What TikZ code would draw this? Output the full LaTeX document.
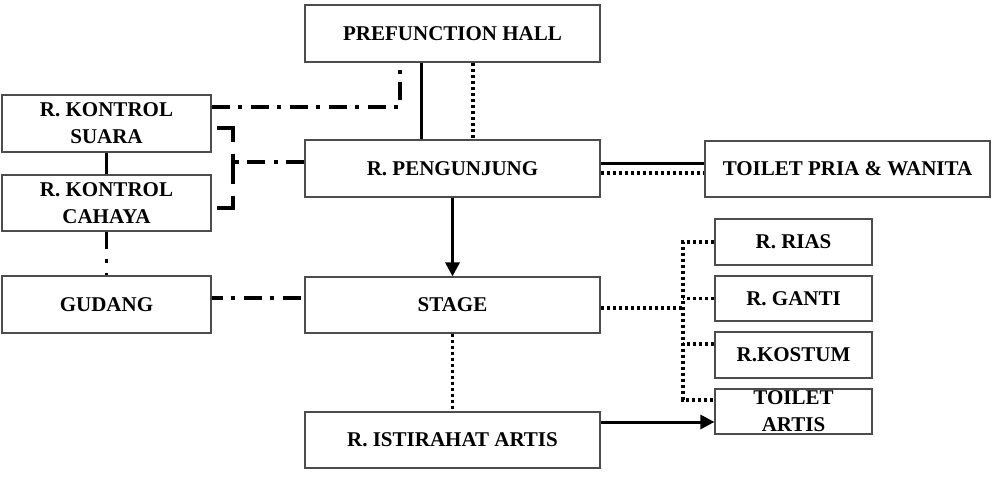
\documentclass[tikz,border=0pt]{standalone}
\usepackage{fontspec}
\setmainfont{Liberation Serif}
\usetikzlibrary{arrows.meta,calc}
\begin{document}
\begin{tikzpicture}[x=1pt,y=-1pt,
 box/.style={draw=black!70,line width=1.2pt,fill=white,inner sep=0pt,align=center,
   font=\bfseries\fontsize{21}{27}\selectfont},
 bigbox/.style={box,minimum width=295pt,minimum height=57pt},
 leftbox/.style={box,minimum width=209pt,minimum height=57pt},
 smallbox/.style={box,minimum width=157pt,minimum height=46pt},
 dashdot/.style={line width=3.8pt,dash pattern=on 18pt off 8pt on 4pt off 9pt},
 dotline/.style={line width=3.5pt,dash pattern=on 3.5pt off 2.5pt},
 dashline/.style={line width=3.8pt,dash pattern=on 30pt off 12pt},
 solidline/.style={line width=3pt},
 arr/.style={line width=3pt,-{Triangle[length=14pt,width=14pt]}}
]
\useasboundingbox (0,0) rectangle (992,477);
% nodes
\node[bigbox] (pref) at (452.5,33.5) {PREFUNCTION HALL};
\node[bigbox] (peng) at (452.5,168.5) {R. PENGUNJUNG};
\node[bigbox,minimum height=56pt] (stage) at (452.5,305) {STAGE};
\node[bigbox,minimum height=56pt] (ist) at (452.5,440) {R. ISTIRAHAT ARTIS};
\node[leftbox] (suara) at (106.5,123.5) {R. KONTROL\\SUARA};
\node[leftbox,minimum height=56pt] (cahaya) at (106.5,203) {R. KONTROL\\CAHAYA};
\node[leftbox] (gudang) at (106.5,304.5) {GUDANG};
\node[box,minimum width=285pt,minimum height=56pt] (tpw) at (847.5,169) {TOILET PRIA \& WANITA};
\node[smallbox] (rias) at (793.5,242) {R. RIAS};
\node[smallbox,minimum height=45pt] (ganti) at (793.5,298.5) {R. GANTI};
\node[smallbox] (kostum) at (793.5,355) {R.KOSTUM};
\node[smallbox,minimum height=45pt] (tartis) at (793.5,411.5) {TOILET\\ARTIS};
% coordinates
\coordinate (br) at (233,162);
\coordinate (bt) at (683,242);
\coordinate (bb) at (683,400);
% connectors
\draw[solidline] (pref.south -| 421,0) -- (peng.north -| 421,0);
\draw[dotline] (pref.south -| 473,0) -- (peng.north -| 473,0);
\draw[dashdot] (suara.east |- 0,107) -| (pref.south -| 400,0);
\draw[dashline] ($(suara.east)+(5,4.5)$) -- (233,128) -- (233,208) -- ($(cahaya.east)+(5,5)$);
\draw[dashdot] (peng.west |- br) -- (br);
\draw[solidline] (suara.south) -- (cahaya.north);
\draw[dashdot,dash pattern=on 17pt off 10pt on 4pt off 10pt] (cahaya.south) -- (gudang.north);
\draw[dashdot,dash phase=7pt] (gudang.east |- 0,298) -- (stage.west |- 0,298);
\draw[arr] (peng.south) -- (stage.north);
\draw[dotline] (stage.south) -- (ist.north);
\draw[solidline] (peng.east |- 0,163) -- (tpw.west |- 0,163);
\draw[dotline] (peng.east |- 0,173) -- (tpw.west |- 0,173);
\draw[dotline] (stage.east |- 0,308) -- (bt |- 0,308);
\draw[dotline] (rias.west) -- (bt) -- (bb) -- (tartis.west |- bb);
\draw[dotline] (ganti.west) -- (bt |- ganti.west);
\draw[dotline] (kostum.west |- 0,344) -- (bt |- 0,344);
\draw[arr] (ist.east |- 0,422) -- (tartis.west |- 0,422);
\end{tikzpicture}
\end{document}
